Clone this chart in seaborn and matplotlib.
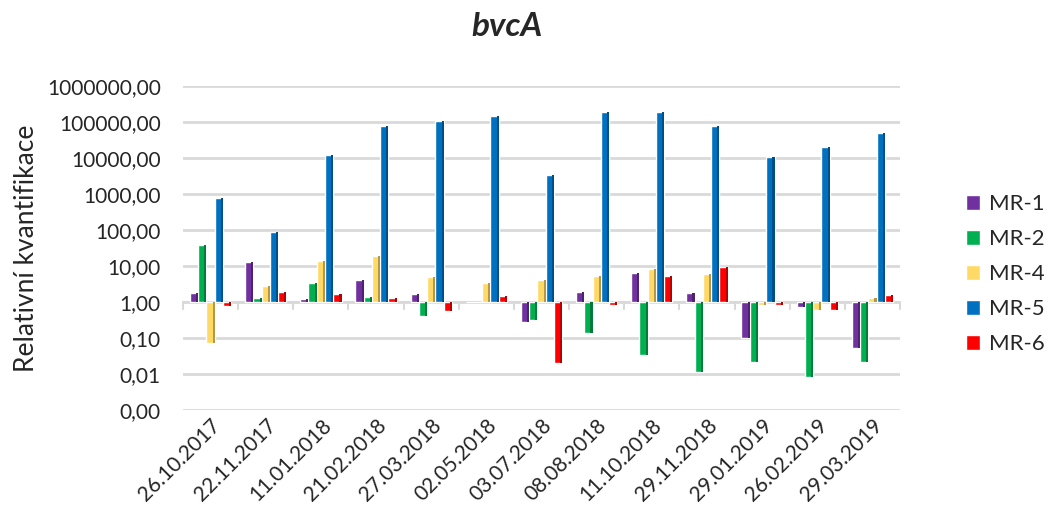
import numpy as np
import pandas as pd
import matplotlib
matplotlib.use("Agg")
import matplotlib.pyplot as plt
from matplotlib.ticker import FixedLocator, FuncFormatter
from matplotlib.patches import Rectangle
from matplotlib.colors import to_rgb
import seaborn as sns

dates = ["26.10.2017", "22.11.2017", "11.01.2018", "21.02.2018", "27.03.2018",
         "02.05.2018", "03.07.2018", "08.08.2018", "11.10.2018", "29.11.2018",
         "29.01.2019", "26.02.2019", "29.03.2019"]

mr1 = [1.8, 13.2, 1.24, 4.2, 1.64, 1.0, 0.28, 1.86, 6.3, 1.78, 0.103, 0.73, 0.054]
mr2 = [37.6, 1.3, 3.4, 1.35, 0.41, 1.0, 0.32, 0.14, 0.033, 0.0114, 0.022, 0.008, 0.021]
mr4 = [0.074, 2.7, 14.0, 19.0, 4.85, 3.4, 4.1, 5.2, 8.1, 5.9, 0.85, 0.59, 1.27]
mr5 = [760, 86, 12000, 79000, 105000, 150000, 3300, 195000, 185000, 79000, 11000, 20000, 48000]
mr6 = [0.78, 1.95, 1.64, 1.3, 0.56, 1.44, 0.02, 0.83, 5.2, 9.2, 0.8, 0.59, 1.56]

series = {"MR-1": mr1, "MR-2": mr2, "MR-4": mr4, "MR-5": mr5, "MR-6": mr6}
colors = ["#7030A0", "#00B050", "#FFD966", "#0070C0", "#FF0000"]

rows = []
for name, vals in series.items():
    for d, v in zip(dates, vals):
        rows.append({"datum": d, "vzorek": name, "log_val": np.log10(v)})
df = pd.DataFrame(rows)

sns.set_style("white")
plt.rcParams["font.family"] = ["Lato", "DejaVu Sans"]

fig = plt.figure(figsize=(10.49, 5.21), dpi=100)
ax = fig.add_axes([183 / 1049, 1 - 410 / 521, (900 - 183) / 1049, 324 / 521])

sns.barplot(data=df, x="datum", y="log_val", hue="vzorek", order=dates,
            hue_order=list(series.keys()), palette=colors, width=0.75,
            saturation=1, ax=ax, zorder=3)

# darker right edge on each bar, like the Excel shading
for p in list(ax.patches):
    h = p.get_height()
    if h == 0:
        continue
    w = p.get_width()
    dark = tuple(c * 0.7 for c in to_rgb(p.get_facecolor()))
    ax.add_patch(Rectangle((p.get_x() + w * 0.75, p.get_y()), w * 0.25, h,
                           facecolor=dark, edgecolor="none", zorder=3.5))

ax.set_ylim(-3, 6)
ax.set_xlim(-0.5, len(dates) - 0.5)
ax.yaxis.set_major_locator(FixedLocator(range(-3, 7)))
ax.yaxis.set_major_formatter(FuncFormatter(lambda y, p: f"{10.0 ** y:.2f}".replace(".", ",")))
ax.grid(axis="y", color="#d9d9d9", linewidth=2, zorder=0)
ax.grid(axis="x", visible=False)
for s in ax.spines.values():
    s.set_visible(False)

# axis line at 1,00 with category separator ticks
ax.axhline(0, color="#d9d9d9", linewidth=1.5, zorder=2)
for b in np.arange(-0.5, len(dates), 1.0):
    ax.plot([b, b], [0, -0.2], color="#d9d9d9", linewidth=1.5, zorder=2, clip_on=False)

ax.tick_params(axis="y", labelsize=15, length=0, pad=16)
ax.tick_params(axis="x", labelsize=15, length=0, pad=4)
plt.setp(ax.get_xticklabels(), rotation=45, ha="right", rotation_mode="anchor")
ax.set_xlabel("")
ax.set_ylabel("Relativní kvantifikace", fontsize=19, labelpad=6)

handles, labels = ax.get_legend_handles_labels()
ax.legend_.remove()
fig.legend(handles, labels, loc="upper left", bbox_to_anchor=(966 / 1049, 1 - 194 / 521),
           frameon=False, fontsize=16, handlelength=0.65, handleheight=0.65,
           labelspacing=0.68, handletextpad=0.4, borderaxespad=0, borderpad=0)

fig.text(507 / 1049, 1 - 27 / 521, "bvcA", fontsize=24, fontweight="bold",
         fontstyle="italic", ha="center", va="center")

fig.savefig("out.png", dpi=100)
